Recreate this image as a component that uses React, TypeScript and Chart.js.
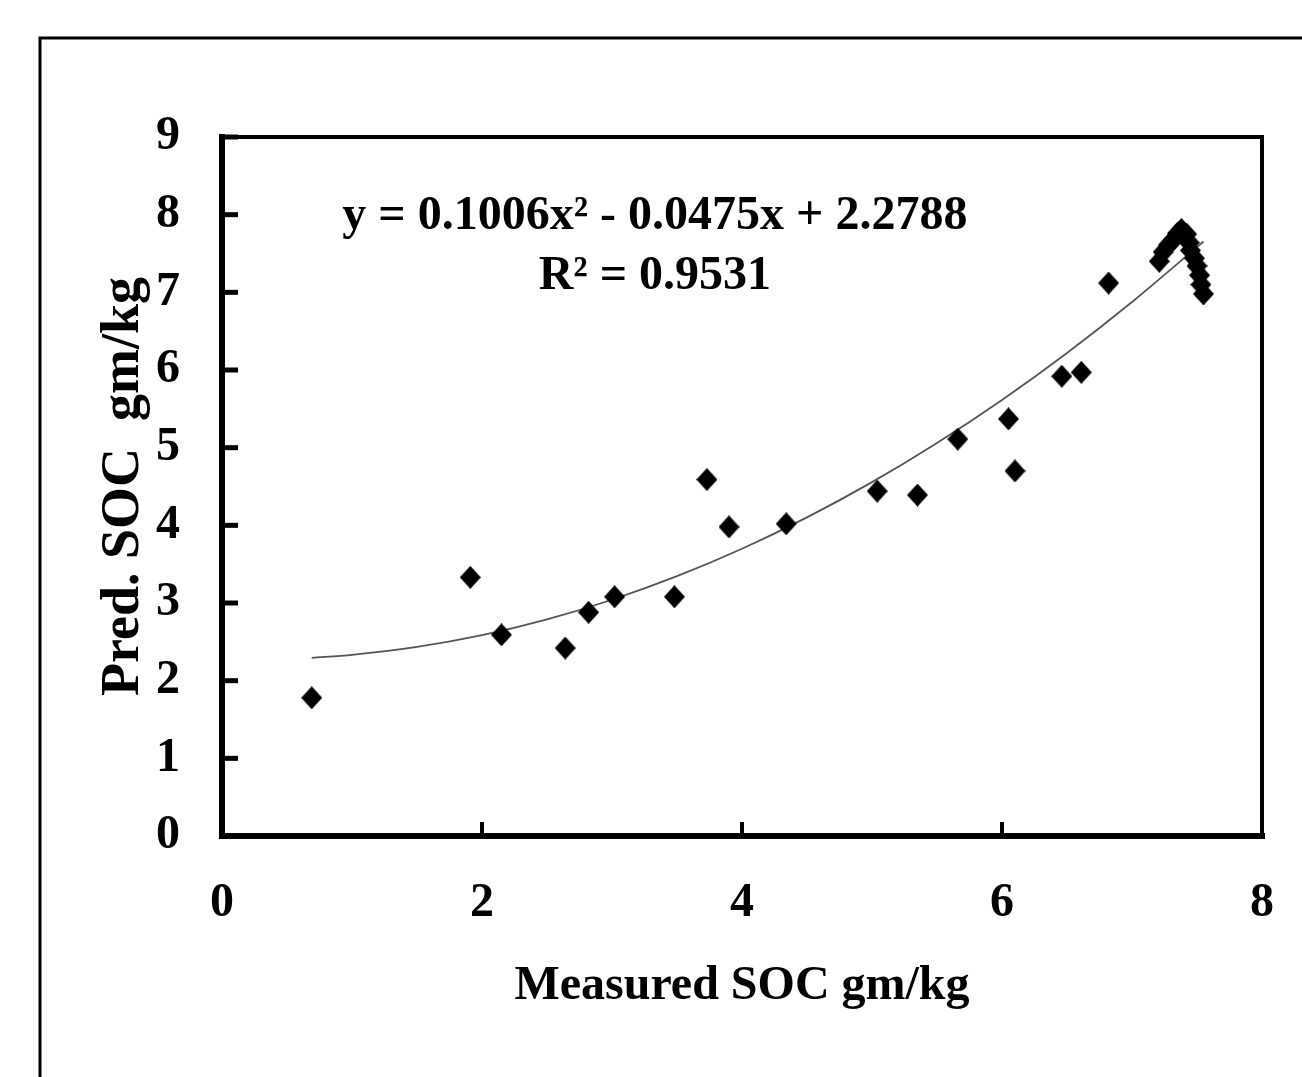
import React, { useEffect, useRef } from "react";
import { Chart, registerables } from "chart.js";

Chart.register(...registerables);

const measuredX = [0.69, 1.91, 2.15, 2.64, 2.82, 3.02, 3.48, 3.73, 3.9, 4.34, 5.04, 5.35, 5.66, 6.05, 6.1, 6.46, 6.61, 6.82, 7.21, 7.24, 7.28, 7.32, 7.35, 7.38, 7.42, 7.44, 7.45, 7.48, 7.5, 7.52, 7.53, 7.55];
const predictedY = [1.78, 3.33, 2.59, 2.42, 2.88, 3.08, 3.08, 4.59, 3.98, 4.02, 4.44, 4.39, 5.11, 5.37, 4.7, 5.92, 5.97, 7.12, 7.4, 7.52, 7.61, 7.68, 7.76, 7.81, 7.75, 7.64, 7.54, 7.44, 7.34, 7.22, 7.1, 6.98];

const trendX = [0.69, 1, 1.5, 2, 2.5, 3, 3.5, 4, 4.5, 5, 5.5, 6, 6.5, 7, 7.55];
const trendY = [2.294, 2.332, 2.434, 2.586, 2.789, 3.042, 3.345, 3.698, 4.102, 4.556, 5.061, 5.615, 6.22, 6.876, 7.654];

const xTicks = [0, 2, 4, 6, 8];
const yTicks = [0, 1, 2, 3, 4, 5, 6, 7, 8, 9];

const equationLines = ["y = 0.1006x\u00B2 - 0.0475x + 2.2788", "R\u00B2 = 0.9531"];
const xTitle = "Measured SOC gm/kg";
const yTitle = "Pred. SOC  gm/kg";

const FONT = "'Liberation Serif', 'Times New Roman', serif";

function makeDiamond(): HTMLCanvasElement {
  const c = document.createElement("canvas");
  c.width = 21;
  c.height = 23;
  const g = c.getContext("2d")!;
  g.fillStyle = "#000";
  g.beginPath();
  g.moveTo(10.5, 0);
  g.lineTo(21, 11.5);
  g.lineTo(10.5, 23);
  g.lineTo(0, 11.5);
  g.closePath();
  g.fill();
  return c;
}

const framePlugin = {
  id: "framePlugin",
  beforeDraw(chart: any) {
    const ctx = chart.ctx;
    ctx.save();
    ctx.fillStyle = "#fff";
    ctx.fillRect(0, 0, chart.width, chart.height);
    ctx.strokeStyle = "#000";
    ctx.lineWidth = 3;
    ctx.strokeRect(40, 38, 1500, 1500);
    ctx.restore();
  },
  afterDraw(chart: any) {
    const ctx = chart.ctx;
    const { left, right, top, bottom } = chart.chartArea;
    const xs = chart.scales.x;
    const ys = chart.scales.y;
    ctx.save();
    ctx.strokeStyle = "#000";
    ctx.lineCap = "square";
    ctx.lineWidth = 4;
    ctx.beginPath();
    ctx.moveTo(left, top);
    ctx.lineTo(right, top);
    ctx.lineTo(right, bottom);
    ctx.stroke();
    ctx.lineWidth = 6;
    ctx.beginPath();
    ctx.moveTo(left, top);
    ctx.lineTo(left, bottom);
    ctx.lineTo(right, bottom);
    ctx.stroke();
    ctx.lineCap = "butt";
    ctx.lineWidth = 5;
    yTicks.forEach((v) => {
      const y = ys.getPixelForValue(v);
      ctx.beginPath();
      ctx.moveTo(left, y);
      ctx.lineTo(left + 16, y);
      ctx.stroke();
    });
    ctx.lineWidth = 4;
    xTicks.forEach((v) => {
      const x = xs.getPixelForValue(v);
      ctx.beginPath();
      ctx.moveTo(x, bottom);
      ctx.lineTo(x, bottom - 14);
      ctx.stroke();
    });
    ctx.fillStyle = "#000";
    ctx.font = `bold 48px ${FONT}`;
    ctx.textAlign = "center";
    ctx.textBaseline = "middle";
    const cx = xs.getPixelForValue(3.33);
    ctx.fillText(equationLines[0], cx, ys.getPixelForValue(7.97));
    ctx.fillText(equationLines[1], cx, ys.getPixelForValue(7.2));
    ctx.restore();
  },
};

export default function App() {
  const ref = useRef<HTMLCanvasElement | null>(null);
  useEffect(() => {
    if (!ref.current) return;
    const diamond = makeDiamond();
    const chart = new Chart(ref.current, {
      type: "scatter",
      data: {
        datasets: [
          {
            label: "Measured vs Predicted",
            data: measuredX.map((x, i) => ({ x, y: predictedY[i] })),
            pointStyle: diamond as any,
            pointRadius: 11,
            backgroundColor: "#000",
            borderColor: "#000",
          },
          {
            label: "Trend",
            data: trendX.map((x, i) => ({ x, y: trendY[i] })),
            showLine: true,
            pointRadius: 0,
            borderColor: "#555",
            borderWidth: 1.8,
            cubicInterpolationMode: "monotone",
            fill: false,
          },
        ],
      },
      options: {
        animation: false,
        responsive: true,
        maintainAspectRatio: false,
        layout: { padding: { left: 0, right: 40, top: 137, bottom: 0 } },
        plugins: { legend: { display: false }, tooltip: { enabled: false } },
        scales: {
          x: {
            type: "linear",
            min: 0,
            max: 8,
            afterFit(scale: any) {
              scale.height = 241;
              scale.paddingLeft = 0;
              scale.paddingRight = 0;
            },
            afterBuildTicks(scale: any) {
              scale.ticks = xTicks.map((v) => ({ value: v }));
            },
            grid: { display: false, drawTicks: false },
            border: { display: false },
            ticks: {
              padding: 39,
              color: "#000",
              font: { family: FONT, size: 48, weight: "bold" },
              maxRotation: 0,
            },
            title: {
              display: true,
              text: xTitle,
              color: "#000",
              font: { family: FONT, size: 48, weight: "bold", lineHeight: 1 },
              padding: { top: 0, bottom: 66 },
            },
          },
          y: {
            type: "linear",
            min: 0,
            max: 9,
            afterFit(scale: any) {
              scale.width = 222;
              scale.paddingTop = 0;
              scale.paddingBottom = 0;
            },
            afterBuildTicks(scale: any) {
              scale.ticks = yTicks.map((v) => ({ value: v }));
            },
            grid: { display: false, drawTicks: false },
            border: { display: false },
            ticks: {
              padding: 42,
              color: "#000",
              font: { family: FONT, size: 48, weight: "bold" },
            },
            title: {
              display: true,
              text: yTitle,
              color: "#000",
              font: { family: FONT, size: 54, weight: "bold", lineHeight: 1 },
              padding: { top: 97, bottom: 0 },
            },
          },
        },
      },
      plugins: [framePlugin],
    });
    return () => chart.destroy();
  }, []);
  return (
    <div style={{ position: "fixed", left: 0, top: 0, width: 1302, height: 1077, background: "#fff" }}>
      <canvas ref={ref} />
    </div>
  );
}
